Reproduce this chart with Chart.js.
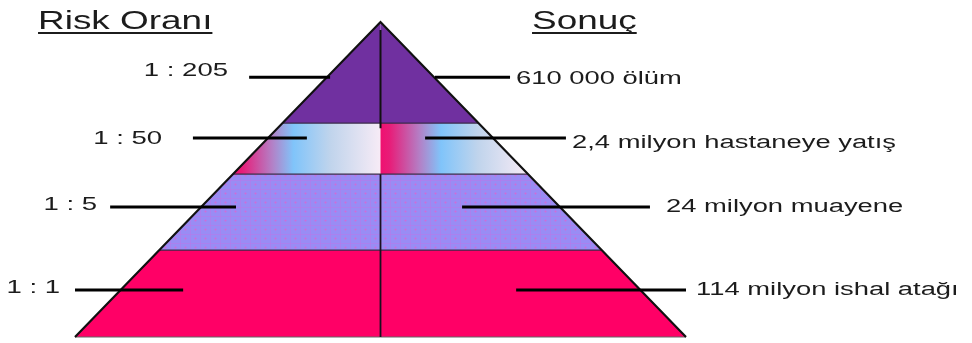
<!DOCTYPE html>
<html lang="tr">
<head>
<meta charset="utf-8">
<script src="https://cdn.jsdelivr.net/npm/chart.js@4.4.1/dist/chart.umd.min.js"></script>
<style>
  html, body { margin: 0; padding: 0; background: #fff; }
  canvas { display: block; }
</style>
</head>
<body>
<canvas id="pyramidChart" width="972" height="343"></canvas>
<script>
// Tiers listed from the apex down to the base
var riskRatios = ['1 : 205', '1 : 50', '1 : 5', '1 : 1'];
var outcomes = ['610 000 ölüm', '2,4 milyon hastaneye yatış', '24 milyon muayene', '114 milyon ishal atağı'];
var headings = ['Risk Oranı', 'Sonuç'];
// Tier edges as a share of the pyramid height (0 = base, 1 = apex)
var tierTops = [1, 0.679, 0.517, 0.276];
var tierBottoms = [0.679, 0.517, 0.276, 0];

// Callout layout, in the same units (x: -1 left corner .. 1 right corner)
var leaderY = [0.825, 0.632, 0.413, 0.149];
var leftLeader = [[-0.430, -0.165], [-0.614, -0.241], [-0.885, -0.473], [-1.0, -0.646]];
var rightLeader = [[0.178, 0.424], [0.146, 0.607], [0.267, 0.882], [0.444, 1.0]];
var leftLabelX = [-0.499, -0.715, -0.928, -1.049];
var leftLabelY = [0.848, 0.632, 0.425, 0.159];
var rightLabelX = [0.4435, 0.627, 0.9345, 1.033];
var rightLabelY = [0.825, 0.622, 0.416, 0.155];
var headingX = [-1.121, 0.496];
var headingY = 0.978;

var weave = null;
function weavePattern(ctx) {
    if (weave) return weave;
    var c = document.createElement('canvas');
    c.width = 10; c.height = 9;
    var p = c.getContext('2d');
    p.fillStyle = '#998cf4';
    p.fillRect(0, 0, 10, 9);
    p.fillStyle = 'rgba(190,115,230,0.45)';
    p.fillRect(0, 0, 10, 1);
    p.fillRect(0, 0, 1, 9);
    p.fillStyle = 'rgba(212,105,214,0.55)';
    p.fillRect(5, 3, 1, 3);
    p.fillRect(4, 4, 3, 1);
    weave = ctx.createPattern(c, 'repeat');
    return weave;
}

// pink -> light blue -> pale lavender, running left to right across one half
function halfGradient(chart, from, to) {
    var xs = chart.scales.x;
    var g = chart.ctx.createLinearGradient(xs.getPixelForValue(from), 0, xs.getPixelForValue(to), 0);
    g.addColorStop(0, '#f01070');
    g.addColorStop(0.06, '#e81c78');
    g.addColorStop(0.27, '#b282c8');
    g.addColorStop(0.41, '#80c4fa');
    g.addColorStop(0.66, '#c0d4ec');
    g.addColorStop(1, '#f7ebf6');
    return g;
}

function tierFill(chart, i, side) {
    if (i === 0) return '#7030a0';
    if (i === 3) return '#ff0066';
    if (i === 2) return weavePattern(chart.ctx);
    var w = 1 - tierBottoms[i];
    return side === 'left' ? halfGradient(chart, -w, 0) : halfGradient(chart, 0, w);
}

var datasets = [];

// leader lines
for (var i = 0; i < riskRatios.length; i++) {
    datasets.push({
        data: [{x: leftLeader[i][0], y: leaderY[i]}, {x: leftLeader[i][1], y: leaderY[i]}],
        borderColor: '#000', borderWidth: 3, order: 0
    });
    datasets.push({
        data: [{x: rightLeader[i][0], y: leaderY[i]}, {x: rightLeader[i][1], y: leaderY[i]}],
        borderColor: '#000', borderWidth: 3, order: 0
    });
}

// outline and the centre divider
datasets.push({
    data: [{x: -1, y: 0}, {x: 0, y: 1}, {x: 1, y: 0}],
    borderColor: '#111', borderWidth: 2.2, borderJoinStyle: 'miter', order: 1
});
datasets.push({
    data: [{x: 0, y: 0.975}, {x: 0, y: tierTops[1] - 0.016}],
    borderColor: '#111', borderWidth: 2, order: 1
});
datasets.push({
    data: [{x: 0, y: tierTops[2]}, {x: 0, y: 0}],
    borderColor: '#1a1020', borderWidth: 1.8, order: 1
});

// tier separators and base
for (var k = 0; k < tierBottoms.length; k++) {
    var yb = tierBottoms[k];
    datasets.push({
        data: [{x: -(1 - yb), y: yb}, {x: 1 - yb, y: yb}],
        borderColor: yb === 0 ? '#666' : '#3a2a4a', borderWidth: yb === 0 ? 1 : 1.2, order: 2
    });
}

// tier bodies: each tier is split into a left and a right half
var tierShapes = {
    id: 'tierShapes',
    beforeDatasetsDraw: function (chart) {
        var ctx = chart.ctx, xs = chart.scales.x, ys = chart.scales.y;
        function poly(pts, style) {
            ctx.beginPath();
            pts.forEach(function (p, n) {
                var px = xs.getPixelForValue(p[0]), py = ys.getPixelForValue(p[1]);
                if (n === 0) ctx.moveTo(px, py); else ctx.lineTo(px, py);
            });
            ctx.closePath();
            ctx.fillStyle = style;
            ctx.fill();
        }
        ctx.save();
        for (var t = 0; t < tierTops.length; t++) {
            var top = tierTops[t], bot = tierBottoms[t];
            poly([[-(1 - bot), bot], [-(1 - top), top], [0, top], [0, bot]], tierFill(chart, t, 'left'));
            poly([[0, bot], [0, top], [1 - top, top], [1 - bot, bot]], tierFill(chart, t, 'right'));
        }
        ctx.restore();
    }
};

function stretchedText(ctx, text, px, py, align, sx) {
    ctx.save();
    ctx.translate(px, py);
    ctx.scale(sx, 1);
    ctx.textAlign = align;
    ctx.fillText(text, 0, 0);
    ctx.restore();
}

var labelPlugin = {
    id: 'pyramidLabels',
    afterDatasetsDraw: function (chart) {
        var ctx = chart.ctx, xs = chart.scales.x, ys = chart.scales.y;
        ctx.save();
        ctx.fillStyle = '#1c1c1c';
        ctx.textBaseline = 'alphabetic';

        ctx.font = '18px "Liberation Sans", Arial, sans-serif';
        for (var i = 0; i < riskRatios.length; i++) {
            stretchedText(ctx, riskRatios[i], xs.getPixelForValue(leftLabelX[i]), ys.getPixelForValue(leftLabelY[i]) + 6.5, 'right', 1.53);
            stretchedText(ctx, outcomes[i], xs.getPixelForValue(rightLabelX[i]), ys.getPixelForValue(rightLabelY[i]) + 6.5, 'left', 1.52);
        }

        ctx.font = '26px "Liberation Sans", Arial, sans-serif';
        ctx.strokeStyle = '#1c1c1c';
        ctx.lineWidth = 2;
        for (var h = 0; h < headings.length; h++) {
            var hx = xs.getPixelForValue(headingX[h]);
            var hy = ys.getPixelForValue(headingY);
            stretchedText(ctx, headings[h], hx, hy, 'left', 1.42);
            var w = ctx.measureText(headings[h]).width * 1.42;
            ctx.beginPath();
            ctx.moveTo(hx, hy + 4);
            ctx.lineTo(hx + w, hy + 4);
            ctx.stroke();
        }
        ctx.restore();
    }
};

var pyramidChart = new Chart(document.getElementById('pyramidChart').getContext('2d'), {
    type: 'line',
    data: { datasets: datasets },
    options: {
        responsive: false,
        animation: false,
        events: [],
        layout: { padding: { left: 75, right: 286, top: 22, bottom: 6 } },
        elements: { point: { radius: 0 }, line: { tension: 0, fill: false } },
        datasets: { line: { clip: false } },
        scales: {
            x: { type: 'linear', min: -1, max: 1, display: false },
            y: { min: 0, max: 1, display: false }
        },
        plugins: { legend: { display: false }, tooltip: { enabled: false } }
    },
    plugins: [tierShapes, labelPlugin]
});
</script>
</body>
</html>
